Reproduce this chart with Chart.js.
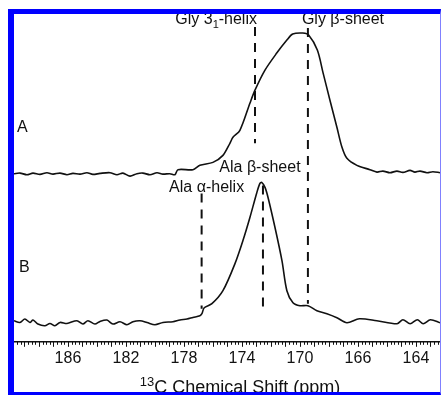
<!DOCTYPE html>
<html>
<head>
<meta charset="utf-8">
<script src="https://cdn.jsdelivr.net/npm/chart.js@4.4.0/dist/chart.umd.min.js"></script>
<style>
  html, body { margin: 0; padding: 0; background: #fff; }
  #frame {
    position: absolute; left: 8px; top: 9px; width: 426px; height: 378px;
    border-left: 6px solid #0000ff; border-top: 5px solid #0000ff;
    border-right: 1px solid #8080ff; border-bottom: 3px solid #0000ff;
  }
  canvas { display: block; }
</style>
</head>
<body>
<div id="frame"><canvas id="nmrChart" width="426" height="378"></canvas></div>
<script>
// Spectrum A (upper trace), chemical shift in ppm and offset intensity
const specAPpm = [189.72, 189.31, 188.83, 188.41, 187.93, 187.45, 187.03, 186.55, 186.07, 185.66,
  185.17, 184.69, 184.28, 183.79, 183.1, 182.62, 182.21, 181.72, 181.24, 180.83,
  180.34, 179.86, 179.45, 178.97, 178.62, 178.41, 177.38, 176.9,
  176.0, 175.31, 174.83, 174.62, 174.14, 173.45, 173.1, 172.41, 171.6, 170.9,
  170.5, 169.8, 169.4, 168.8, 168.4, 167.93, 167.45, 167.1, 166.76, 166.07,
  165.17, 164.69, 164.28, 163.79, 163.31, 162.9, 162.41, 162.07, 161.72, 161.24, 160.83, 160.34];
const specAInt = [167.7, 168.3, 166.7, 168.3, 167, 168.7, 167.3, 168.3, 166.7, 168,
  167.3, 168.7, 167, 168, 168.7, 166.7, 168.3, 165.3, 167.7, 168.3,
  166.7, 168.7, 167.3, 167.7, 166.7, 171.7, 171.7, 176,
  179, 186, 198, 204, 211, 238, 251, 271, 288, 301,
  307, 308, 306, 291, 268, 241, 214, 194, 183, 176,
  171.7, 169.3, 170.3, 168.7, 170.3, 169, 171, 169.3, 170.3, 168.7, 169.7, 168.7];

// Spectrum B (lower trace)
const specBPpm = [189.72, 189.31, 188.97, 188.62, 188.41, 188.07, 187.59, 187.24, 186.9, 186.55,
  186.07, 185.38, 184.97, 184.62, 184.14, 183.79, 183.31, 182.9, 182.41, 181.93,
  181.52, 181.03, 180.55, 180.0, 179.45, 178.76, 178.28, 177.79, 177.38, 176.9,
  176.76, 176.6, 176.07, 175.31, 174.48, 173.93, 173.45, 172.99, 172.76, 172.64,
  172.41, 172.2, 171.72, 171.24, 170.9, 170.48, 170.0, 169.45, 168.83, 168.14,
  167.45, 166.76, 165.9, 164.7, 163.3, 162.9, 162.4, 161.9, 161.5, 161.0, 160.34];
const specBInt = [21, 19.3, 22.7, 19.3, 21.7, 17.7, 16, 18.3, 16, 19.3,
  18.3, 21, 17.7, 21, 17.7, 20.3, 21.7, 17.7, 20, 17,
  20, 21, 19.3, 17, 19.3, 20, 21.7, 22.7, 24.3, 26,
  28, 34, 38, 51, 78, 101, 124, 148, 158, 159,
  154, 144, 114, 81, 51, 39, 36, 36, 31, 28,
  24, 19, 23, 21, 18, 22, 18, 22, 18, 22, 19];

// Dashed assignment markers
const markerNames = ['Gly 3₁-helix', 'Gly β-sheet', 'Ala α-helix', 'Ala β-sheet'];
const markerPpm = [173.1, 169.45, 176.78, 172.55];
const markerTop = [314, 313, 148, 156];
const markerBottom = [198, 38, 33, 29];

// Axis tick labels (as printed in the figure)
const tickValues = [186, 182, 178, 174, 170, 166, 162];
const tickLabels = ['186', '182', '178', '174', '170', '166', '164'];

const FONT = '"Liberation Sans", Arial, sans-serif';
const SUP = { '¹': '1', '²': '2', '³': '3' };
const SUB = { '₁': '1', '₂': '2', '₃': '3' };

function toPoints(xs, ys) {
  return xs.map((v, i) => ({ x: v, y: ys[i] }));
}

// split a label into normal / superscript / subscript runs
function richParts(text) {
  const parts = [];
  for (const ch of text) {
    let mode = '', s = ch;
    if (SUP[ch]) { mode = 'sup'; s = SUP[ch]; }
    else if (SUB[ch]) { mode = 'sub'; s = SUB[ch]; }
    const last = parts[parts.length - 1];
    if (last && last.mode === mode) last.s += s;
    else parts.push({ s: s, mode: mode });
  }
  return parts;
}

function drawRich(ctx, text, x, y, align, size) {
  const parts = richParts(text);
  const big = size + 'px ' + FONT;
  const small = Math.round(size * 0.7) + 'px ' + FONT;
  let w = 0;
  parts.forEach(p => {
    ctx.font = p.mode ? small : big;
    p.w = ctx.measureText(p.s).width;
    w += p.w;
  });
  let cx = align === 'center' ? x - w / 2 : align === 'right' ? x - w : x;
  ctx.textAlign = 'left';
  parts.forEach(p => {
    ctx.font = p.mode ? small : big;
    const dy = p.mode === 'sup' ? -size * 0.4 : p.mode === 'sub' ? size * 0.3 : 0;
    ctx.fillText(p.s, cx, y + dy);
    cx += p.w;
  });
}

const markerDatasets = markerPpm.map((p, i) => ({
  label: markerNames[i],
  data: [{ x: p, y: markerTop[i] }, { x: p, y: markerBottom[i] }],
  borderColor: '#111',
  borderWidth: 2,
  borderDash: [9, 7],
  pointRadius: 0,
  tension: 0
}));

// label placement relative to top of each marker line (pixels)
const markerLabelStyle = [
  { align: 'right', dx: 2, dy: -7 },
  { align: 'left', dx: -6, dy: -8 },
  { align: 'center', dx: 5, dy: -6 },
  { align: 'center', dx: -3, dy: -18 }
];

const annotationPlugin = {
  id: 'annotations',
  afterDatasetsDraw(chart) {
    const { ctx, scales: { x, y } } = chart;
    ctx.save();
    ctx.fillStyle = '#111';
    ctx.textBaseline = 'middle';

    markerNames.forEach((name, i) => {
      const st = markerLabelStyle[i];
      const px = x.getPixelForValue(markerPpm[i]) + st.dx;
      const py = y.getPixelForValue(markerTop[i]) + st.dy;
      drawRich(ctx, name, px, py, st.align, 16);
    });

    // panel letters
    ctx.font = '16px ' + FONT;
    ctx.textAlign = 'left';
    ctx.fillText('A', x.left + 3, y.getPixelForValue(specAInt[0]) - 46);
    ctx.fillText('B', x.left + 5, y.getPixelForValue(specBInt[0]) - 53);

    // minor / intermediate ticks below the axis
    ctx.strokeStyle = '#111';
    ctx.lineWidth = 1;
    const axisY = x.top;
    for (let v = Math.ceil(x.min * 4) / 4; v <= x.max; v += 0.25) {
      const px = Math.round(x.getPixelForValue(v)) + 0.5;
      const len = Math.abs(v - Math.round(v)) < 0.01 ? 5 : 3;
      ctx.beginPath();
      ctx.moveTo(px, axisY);
      ctx.lineTo(px, axisY + len);
      ctx.stroke();
    }

    // axis title (partly cut by the frame, as in the figure)
    ctx.textBaseline = 'alphabetic';
    drawRich(ctx, '¹³C Chemical Shift (ppm)', (x.left + x.right) / 2 + 13, chart.height + 1, 'center', 18);
    ctx.restore();
  }
};

const ctx = document.getElementById('nmrChart').getContext('2d');
const nmrChart = new Chart(ctx, {
  type: 'line',
  data: {
    datasets: [
      {
        label: 'A',
        data: toPoints(specAPpm, specAInt),
        borderColor: '#111',
        borderWidth: 1.6,
        pointRadius: 0,
        tension: 0.3
      },
      {
        label: 'B',
        data: toPoints(specBPpm, specBInt),
        borderColor: '#111',
        borderWidth: 1.6,
        pointRadius: 0,
        tension: 0.3
      }
    ].concat(markerDatasets)
  },
  options: {
    responsive: false,
    animation: false,
    layout: { padding: { left: 0, right: 0, top: 0, bottom: 17 } },
    plugins: {
      legend: { display: false },
      tooltip: { enabled: false },
      title: { display: false }
    },
    scales: {
      x: {
        type: 'linear',
        reverse: true,
        min: 160.34,
        max: 189.72,
        afterBuildTicks: function(scale) {
          scale.ticks = tickValues.map(v => ({ value: v }));
        },
        ticks: {
          autoSkip: false,
          maxRotation: 0,
          padding: 7,
          color: '#111',
          font: { family: FONT, size: 16 },
          callback: function(value) {
            const i = tickValues.indexOf(value);
            return i >= 0 ? tickLabels[i] : '';
          }
        },
        grid: { display: true, drawOnChartArea: false, drawTicks: false },
        border: { display: true, color: '#111', width: 1.5 }
      },
      y: {
        display: false,
        min: 0,
        max: 327
      }
    }
  },
  plugins: [annotationPlugin]
});
</script>
</body>
</html>
